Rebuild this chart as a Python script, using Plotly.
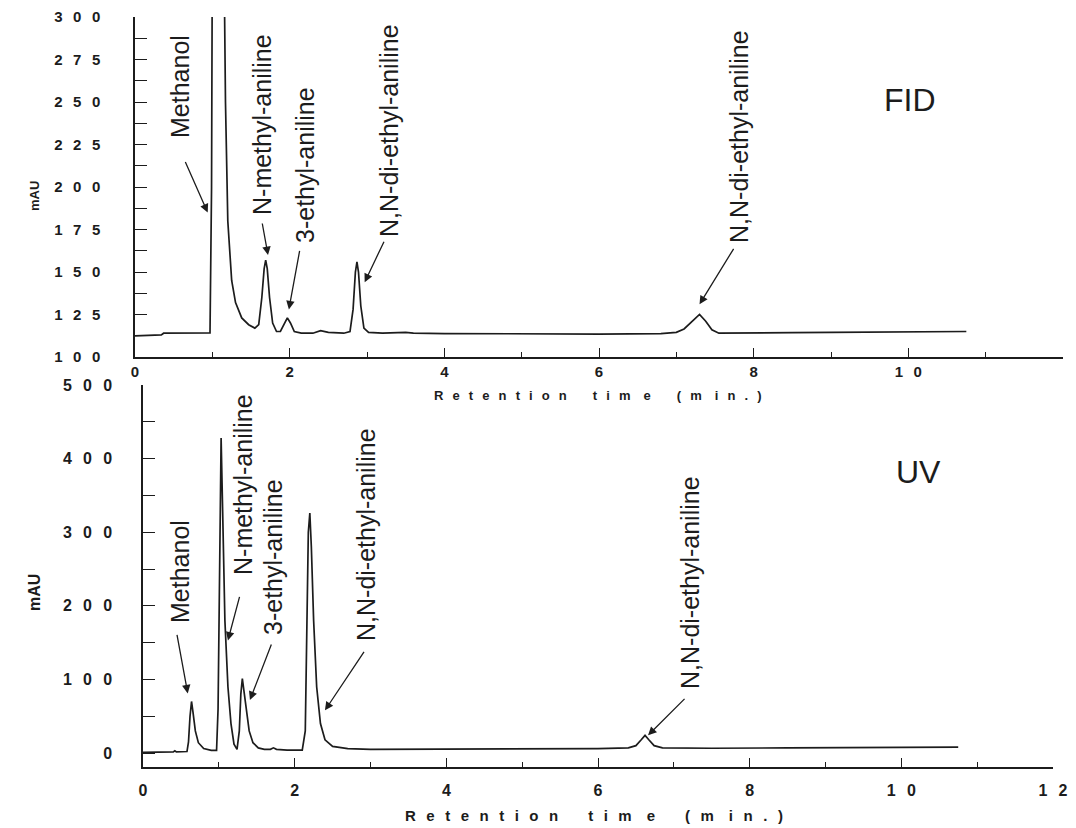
import plotly.graph_objects as go

# ---------------- data ----------------
fid_time = [0, 0.2, 0.34, 0.37, 0.6, 0.9, 0.97, 0.99, 1.0, 1.15, 1.17, 1.2, 1.25, 1.3, 1.38,
            1.47, 1.55, 1.6, 1.64, 1.67, 1.69, 1.71, 1.74, 1.78, 1.83, 1.88, 1.93, 1.97,
            2.01, 2.06, 2.15, 2.3, 2.4, 2.5, 2.7, 2.78, 2.82, 2.85, 2.87, 2.89, 2.92, 2.96,
            3.02, 3.2, 3.5, 3.6, 4.0, 5.0, 6.0, 6.8, 7.0, 7.1, 7.2, 7.3, 7.38, 7.46, 7.55,
            7.8, 8.5, 9.0, 10.0, 10.75]
fid_signal = [112.4, 112.8, 113.0, 114.0, 114.0, 114.0, 114.2, 200, 340, 340, 250, 180, 145,
              132, 123, 119, 117, 119, 135, 152, 157, 152, 135, 120, 115, 115, 119, 123,
              120, 115, 114, 114, 115.5, 114.5, 114, 115, 128, 150, 156, 150, 130, 117,
              114.5, 114, 114.5, 114, 113.8, 113.5, 113.5, 113.8, 114.5, 116.5, 121, 125,
              121, 116, 114, 114, 114.3, 114.5, 115, 115]

uv_time = [0, 0.3, 0.4, 0.42, 0.44, 0.58, 0.6, 0.62, 0.64, 0.66, 0.69, 0.73, 0.8, 0.9, 0.97,
           0.99, 1.01, 1.03, 1.05, 1.08, 1.12, 1.16, 1.2, 1.24, 1.27, 1.29, 1.31, 1.33, 1.36,
           1.4, 1.45, 1.52, 1.6, 1.68, 1.72, 1.76, 1.9, 2.1, 2.14, 2.16, 2.18, 2.2, 2.22,
           2.25, 2.29, 2.34, 2.4, 2.5, 2.7, 3.0, 4.0, 5.0, 6.0, 6.4, 6.5, 6.57, 6.62, 6.67,
           6.74, 6.85, 7.5, 8.5, 9.5, 10.75]
uv_signal = [1, 1.5, 1.5, 3, 1.5, 2, 15, 50, 70, 55, 30, 14, 6, 3.5, 3.5,
             60, 300, 428, 330, 180, 90, 40, 12, 5, 30, 80, 101, 85, 55,
             30, 14, 7, 5, 5, 7, 5, 4, 4, 30, 150, 300, 326, 280,
             180, 90, 40, 18, 9, 6, 5, 5, 5.5, 6, 7, 10, 18, 24, 18,
             10, 7, 6.5, 7, 7.5, 8]

peak_names = ["Methanol", "N-methyl-aniline", "3-ethyl-aniline",
              "N,N-di-ethyl-aniline", "N,N-di-ethyl-aniline"]
fid_peak_time = [0.94, 1.72, 1.99, 2.97, 7.30]
fid_peak_signal = [185, 160, 128, 144, 131]
uv_peak_time = [0.59, 1.12, 1.41, 2.40, 6.66]
uv_peak_signal = [81, 153, 72, 58, 24]

x_tick_vals = [0, 2, 4, 6, 8, 10, 12]
fid_y_ticks = [100, 125, 150, 175, 200, 225, 250, 275, 300]
uv_y_ticks = [0, 100, 200, 300, 400, 500]
panel_names = ["FID", "UV"]
x_title_words = ["Retention", "tim", "e", "(m", "in.)"]

# ---------------- layout helpers ----------------
# page body has an 8px margin, so the figure starts at screen (8, 8)
OFF = 8
W, H = 1068, 820
SP = "\u2002\u2009"


def spaced(v, sep=SP):
    return sep.join(str(v))


def px(x):
    return (x - OFF) / W


def py(y):
    return 1 - (y - OFF) / H


INK = "#1c1c1c"
LBL_FONT = dict(family="Liberation Sans, Arial, sans-serif", size=25, color=INK)
TICK_FONT = dict(family="Liberation Sans, Arial, sans-serif", size=15, color=INK, weight="bold")

fig = go.Figure()
fig.add_trace(go.Scatter(x=fid_time, y=fid_signal, mode="lines",
                         line=dict(color=INK, width=1.7), xaxis="x", yaxis="y",
                         showlegend=False, hoverinfo="skip"))
fig.add_trace(go.Scatter(x=uv_time, y=uv_signal, mode="lines",
                         line=dict(color=INK, width=1.7), xaxis="x2", yaxis="y2",
                         showlegend=False, hoverinfo="skip"))

common_x = dict(range=[0, 12], showline=True, linecolor=INK, linewidth=1.5,
                showgrid=False, zeroline=False, ticks="inside", ticklen=9,
                tickwidth=1.3, tickcolor=INK, tickvals=x_tick_vals,
                ticktext=[spaced(v) for v in x_tick_vals], tickfont=TICK_FONT,
                minor=dict(ticks="inside", ticklen=5, tickwidth=1.2, tickcolor=INK,
                           tickvals=[1, 3, 5, 7, 9, 11]))

common_y = dict(showline=True, linecolor=INK, linewidth=1.5, showgrid=False,
                zeroline=False, ticks="inside", ticklen=12, tickwidth=1.3,
                tickcolor=INK, tickfont=TICK_FONT)

fig.update_layout(
    width=W, height=H, paper_bgcolor="white", plot_bgcolor="white",
    margin=dict(l=0, r=0, t=0, b=0, pad=0, autoexpand=False), showlegend=False,
    xaxis=dict(common_x, domain=[px(135), px(1063)], anchor="y"),
    yaxis=dict(common_y, domain=[py(357), py(17)], anchor="x", range=[100, 300],
               tickvals=fid_y_ticks, ticktext=[spaced(v) for v in fid_y_ticks],
               ticklabelstandoff=30,
               minor=dict(ticks="inside", ticklen=12, tickwidth=1.2, tickcolor=INK,
                          tickvals=[112.5, 137.5, 162.5, 187.5, 212.5, 237.5, 262.5, 287.5])),
    xaxis2=dict(common_x, domain=[px(143), px(1053)], anchor="y2",
                tickfont=dict(TICK_FONT, size=16), ticklabelstandoff=8),
    yaxis2=dict(common_y, domain=[py(767), py(385)], anchor="x2", range=[-19, 500],
                tickvals=uv_y_ticks, ticktext=[spaced(v) for v in uv_y_ticks],
                tickfont=dict(TICK_FONT, size=16), ticklabelstandoff=26,
                minor=dict(ticks="inside", ticklen=12, tickwidth=1.2, tickcolor=INK,
                           tickvals=[50, 150, 250, 350, 450])),
)

ann = []


def paper_text(text, x, y, font, angle=0):
    return dict(text=text, x=px(x), y=py(y), xref="paper", yref="paper",
                xanchor="center", yanchor="middle", textangle=angle,
                showarrow=False, font=font)


# axis titles (letter-spaced, as in the scanned original)
gap = "\u2002\u2009"
big = "\u2003\u2003"
title_txt = spaced(x_title_words[0], gap) + big + spaced(x_title_words[1], gap) + \
    "\u2003" + x_title_words[2] + big + spaced(x_title_words[3], gap) + "\u2003" + \
    spaced(x_title_words[4], gap)
ann.append(paper_text(title_txt, 598, 395, dict(TICK_FONT, size=13)))
ann.append(paper_text(title_txt, 594, 815, dict(TICK_FONT, size=15)))
ann.append(paper_text("mAU", 35, 196, dict(TICK_FONT, size=13), -90))
ann.append(paper_text("mAU", 34, 593, dict(TICK_FONT, size=16), -90))

# panel labels
ann.append(paper_text(panel_names[0], 910, 100, dict(LBL_FONT, size=32)))
ann.append(paper_text(panel_names[1], 918, 472, dict(LBL_FONT, size=32)))

# peak labels (rotated) - centres in screen pixels
fid_lbl_pos = [(180, 87), (262, 125), (305, 165), (389, 131), (739, 137)]
uv_lbl_pos = [(180, 572), (243, 485), (273, 557), (366, 535), (690, 583)]
fid_arrow_tail = [(-23, -52), (-6, -33), (11, -60), (20, -42), (35, -57)]
uv_arrow_tail = [(-11, -60), (12, -45), (22, -57), (40, -60), (38, -38)]

for name, (lx, ly) in zip(peak_names, fid_lbl_pos):
    ann.append(paper_text(name, lx, ly, LBL_FONT, -90))
for name, (lx, ly) in zip(peak_names, uv_lbl_pos):
    ann.append(paper_text(name, lx, ly, LBL_FONT, -90))

for t, v, (ax, ay) in zip(fid_peak_time, fid_peak_signal, fid_arrow_tail):
    ann.append(dict(text="", x=t, y=v, xref="x", yref="y", ax=ax, ay=ay,
                    showarrow=True, arrowhead=2, arrowsize=1.3, arrowwidth=1.3,
                    arrowcolor=INK, standoff=0))
for t, v, (ax, ay) in zip(uv_peak_time, uv_peak_signal, uv_arrow_tail):
    ann.append(dict(text="", x=t, y=v, xref="x2", yref="y2", ax=ax, ay=ay,
                    showarrow=True, arrowhead=2, arrowsize=1.3, arrowwidth=1.3,
                    arrowcolor=INK, standoff=0))

fig.update_layout(annotations=ann)
fig.write_html("out.html")
